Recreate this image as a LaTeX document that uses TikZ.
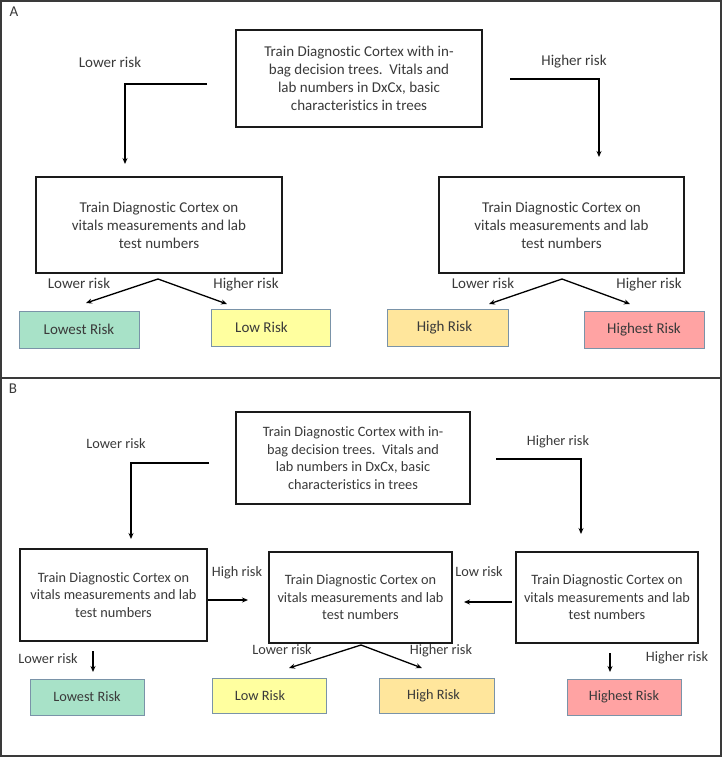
\documentclass[tikz,border=0pt]{standalone}
\usepackage{fontspec}
\setmainfont{Carlito}[Ligatures=NoCommon]
\usetikzlibrary{arrows.meta}
\definecolor{txt}{HTML}{3A3A3A}
\definecolor{frm}{HTML}{3A3A3A}
\definecolor{boxline}{HTML}{1A1A1A}
\definecolor{cellline}{HTML}{7A93A8}
\definecolor{cGreen}{HTML}{A8E2C8}
\definecolor{cYellow}{HTML}{FFFF9F}
\definecolor{cGold}{HTML}{FFE69C}
\definecolor{cRed}{HTML}{FFA3A3}
\begin{document}
\begin{tikzpicture}[x=1pt,y=-1pt,
  fa/.style={font=\fontsize{15}{18}\selectfont},
  fb/.style={font=\fontsize{14.3}{17.5}\selectfont},
  trainbox/.style={draw=boxline,line width=1.6pt,align=center,text=txt,inner sep=0pt},
  riskbox/.style={draw=cellline,line width=0.8pt,inner sep=0pt,text=txt},
  lbl/.style={text=txt,inner sep=0pt,text height=0.7em,text depth=0.2em},
  conn/.style={draw=black,line width=1.3pt,-{Stealth[length=6pt,width=5pt]}},
  seg/.style={draw=black,line width=1.3pt}]
\useasboundingbox (0,0) rectangle (722,757);
\fill[white] (0,0) rectangle (722,757);
% frames
\draw[frm,line width=1.6pt] (1,1) rectangle (721,756);
\draw[frm,line width=1.6pt] (1,378) -- (721,378);

% ---------------- Panel A ----------------
\node[lbl,fa] (labA) at (14,14) {A};
\node[trainbox,fa,minimum width=246pt,minimum height=97pt] (topA) at (359,78.5)
  {Train Diagnostic Cortex with in-\\bag decision trees.\ \ Vitals and\\lab numbers in DxCx, basic\\characteristics in trees};
\node[trainbox,fa,minimum width=246pt,minimum height=96pt] (midAL) at (159,225)
  {Train Diagnostic Cortex on\\vitals measurements and lab\\test numbers};
\node[trainbox,fa,minimum width=245pt,minimum height=96pt] (midAR) at (561.5,225)
  {Train Diagnostic Cortex on\\vitals measurements and lab\\test numbers};
\node[riskbox,fa,fill=cGreen,minimum width=120pt,minimum height=37pt] (lowestA) at (79,329.5) {Lowest Risk};
\node[riskbox,fa,fill=cYellow,minimum width=119pt,minimum height=37pt] (lowA) at (270.5,327.5) {\hspace*{-18pt}Low Risk};
\node[riskbox,fa,fill=cGold,minimum width=121pt,minimum height=37pt] (highA) at (447.5,327.5) {\hspace*{-6pt}High Risk};
\node[riskbox,fa,fill=cRed,minimum width=120pt,minimum height=37pt] (highestA) at (644,329.5) {Highest Risk};

\node[lbl,fa] (lA1) at (110,65) {Lower risk};
\node[lbl,fa] (lA2) at (574,63) {Higher risk};
\node[lbl,fa] (lA3) at (79,286) {Lower risk};
\node[lbl,fa] (lA4) at (246,286) {Higher risk};
\node[lbl,fa] (lA5) at (483,286) {Lower risk};
\node[lbl,fa] (lA6) at (649,286) {Higher risk};

\coordinate (a1s) at (207,84);
\coordinate (a1e) at (125,164);
\draw[conn] (a1s) -| (a1e);
\coordinate (a2s) at (510,79);
\coordinate (a2e) at (599,157);
\draw[conn] (a2s) -| (a2e);
\coordinate (apxAL) at (158,279);
\coordinate (aL1) at (86,303);
\coordinate (aL2) at (227,304);
\draw[conn] (apxAL) -- (aL1);
\draw[conn] (apxAL) -- (aL2);
\coordinate (apxAR) at (562,279);
\coordinate (aR1) at (489,304);
\coordinate (aR2) at (630,304);
\draw[conn] (apxAR) -- (aR1);
\draw[conn] (apxAR) -- (aR2);

% ---------------- Panel B ----------------
\node[lbl,fa] (labB) at (13,391) {B};
\node[trainbox,fb,minimum width=234pt,minimum height=92pt] (topB) at (353,458)
  {Train Diagnostic Cortex with in-\\bag decision trees.\ \ Vitals and\\lab numbers in DxCx, basic\\characteristics in trees};
\node[trainbox,fb,minimum width=187pt,minimum height=92pt] (leftB) at (113.5,595)
  {Train Diagnostic Cortex on\\vitals measurements and lab\\test numbers};
\node[trainbox,fb,minimum width=183pt,minimum height=91pt] (midB) at (360.5,597.5)
  {Train Diagnostic Cortex on\\vitals measurements and lab\\test numbers};
\node[trainbox,fb,minimum width=182pt,minimum height=91pt] (rightB) at (607,597.5)
  {Train Diagnostic Cortex on\\vitals measurements and lab\\test numbers};
\node[riskbox,fb,fill=cGreen,minimum width=114pt,minimum height=36pt] (lowestB) at (87,697) {Lowest Risk};
\node[riskbox,fb,fill=cYellow,minimum width=114pt,minimum height=35pt] (lowB) at (269,695.5) {\hspace*{-18pt}Low Risk};
\node[riskbox,fb,fill=cGold,minimum width=115pt,minimum height=35pt] (highB) at (436.5,695.5) {\hspace*{-6pt}High Risk};
\node[riskbox,fb,fill=cRed,minimum width=114pt,minimum height=36pt] (highestB) at (624,697) {Highest Risk};

\node[lbl,fb] (lB1) at (116,446) {Lower risk};
\node[lbl,fb] (lB2) at (558,443) {Higher risk};
\node[lbl,fb] (lB3) at (237,574) {High risk};
\node[lbl,fb] (lB4) at (479,574) {Low risk};
\node[lbl,fb] (lB5) at (48,661) {Lower risk};
\node[lbl,fb] (lB6) at (282,652) {Lower risk};
\node[lbl,fb] (lB7) at (441,652) {Higher risk};
\node[lbl,fb] (lB8) at (677,659) {Higher risk};

\coordinate (b1s) at (209,463);
\coordinate (b1e) at (131,539);
\draw[conn] (b1s) -| (b1e);
\coordinate (b2s) at (496,459);
\coordinate (b2e) at (581,534);
\draw[conn] (b2s) -| (b2e);
\coordinate (b3s) at (208,600);
\coordinate (b3e) at (248,600);
\draw[conn] (b3s) -- (b3e);
\coordinate (b4s) at (512,602);
\coordinate (b4e) at (464,602);
\draw[conn] (b4s) -- (b4e);
\coordinate (b5s) at (93,651);
\coordinate (b5e) at (93,672);
\draw[conn] (b5s) -- (b5e);
\coordinate (apxB) at (361,645);
\coordinate (bM1) at (289,668);
\coordinate (bM2) at (422,668);
\draw[conn] (apxB) -- (bM1);
\draw[conn] (apxB) -- (bM2);
\coordinate (b6s) at (610,653);
\coordinate (b6e) at (610,672);
\draw[conn] (b6s) -- (b6e);
\end{tikzpicture}
\end{document}
